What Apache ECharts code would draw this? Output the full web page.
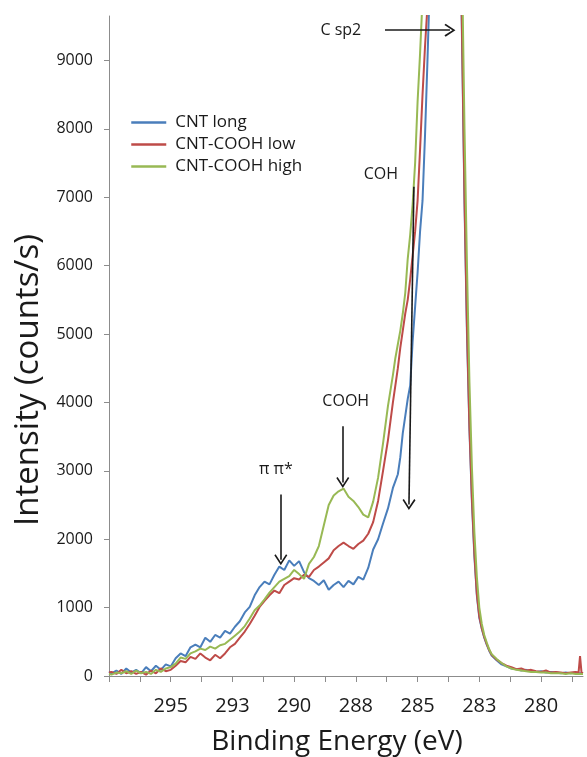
<!DOCTYPE html>
<html>
<head>
<meta charset="utf-8">
<script src="https://cdn.jsdelivr.net/npm/echarts@6/dist/echarts.min.js"></script>
<style>
  html, body { margin: 0; padding: 0; background: #fff; }
  #main { width: 587px; height: 757px; }
</style>
</head>
<body>
<div id="main"></div>
<script>
// binding energy (eV)
const energy = [
  297.5, 297.4, 297.2, 297.0, 296.8, 296.6, 296.4, 296.2, 296.0, 295.8, 295.6, 295.4, 295.2, 295.0,
  294.8, 294.6, 294.4, 294.2, 294.0, 293.8, 293.6, 293.4, 293.2, 293.0, 292.8, 292.6, 292.4, 292.2, 292.0,
  291.8, 291.6, 291.4, 291.2, 291.0, 290.8, 290.6, 290.4, 290.2, 290.0, 289.8, 289.6, 289.4, 289.2, 289.0,
  288.8, 288.6, 288.4, 288.2, 288.0, 287.8, 287.6, 287.4, 287.2, 287.0, 286.8, 286.6, 286.4, 286.2, 286.0,
  285.9, 285.8, 285.7, 285.6, 285.5, 285.4, 285.3, 285.2, 285.1, 285.0,
  284.9, 284.8, 284.7, 284.6, 284.5, 284.4, 284.3, 284.2, 284.1, 284.0,
  283.9, 283.8, 283.7, 283.6, 283.5, 283.4, 283.3, 283.2, 283.1, 283.0,
  282.9, 282.8, 282.7, 282.6, 282.5, 282.4, 282.3, 282.2, 282.1, 282.0,
  281.8, 281.6, 281.4, 281.2, 281.0, 280.8, 280.6, 280.4, 280.2, 280.0,
  279.8, 279.6, 279.4, 279.2, 279.0, 278.8, 278.6, 278.48, 278.42, 278.36, 278.3
];

// intensity (counts/s)
const cntLong = [
  60, 40, 80, 30, 110, 50, 90, 40, 130, 70, 150, 90, 170, 140,
  260, 330, 290, 420, 460, 420, 560, 500, 600, 560, 660, 620, 720, 800, 930,
  1010, 1180, 1300, 1380, 1340, 1480, 1600, 1550, 1690, 1610, 1680, 1520, 1430, 1390, 1330,
  1400, 1260, 1330, 1380, 1300, 1390, 1340, 1450, 1410, 1580, 1850, 2000, 2230, 2450, 2750,
  2850, 2950, 3200, 3550, 3800, 4050, 4250, 4900, 5400, 5900,
  6500, 6950, 7900, 9000, 10200, 12500, 16000, 21000, 27000, 32000,
  35000, 34000, 30000, 24000, 18000, 14000, 11500, 9300, 6900, 5000,
  3600, 2550, 1750, 1180, 850, 690, 560, 460, 370, 300,
  230, 170, 140, 110, 100, 80, 90, 70, 60, 70,
  50, 60, 50, 40, 50, 40, 50, 40, 45, 40, 40
];

const cntCoohLow = [
  50, 60, 30, 90, 40, 70, 30, 60, 20, 80, 40, 110, 70, 90,
  150, 220, 200, 280, 250, 330, 270, 230, 310, 260, 330, 420, 470, 560, 650,
  760, 880, 1010, 1100, 1180, 1250, 1210, 1330, 1380, 1430, 1410, 1480, 1450, 1550, 1600,
  1660, 1720, 1840, 1900, 1950, 1900, 1860, 1930, 1980, 2080, 2250, 2560, 3000, 3450, 4000,
  4250, 4500, 4800, 5050, 5300, 5500, 5800, 6150, 6500, 6950,
  7700, 8500, 9200, 9800, 11000, 13000, 17000, 22000, 28000, 33000,
  36000, 35000, 31000, 25000, 19000, 14500, 11800, 9400, 7000, 5100,
  3650, 2600, 1800, 1200, 870, 700, 570, 470, 380, 310,
  240, 190, 150, 130, 100, 110, 80, 90, 70, 60,
  80, 50, 60, 50, 40, 50, 60, 50, 290, 50, 40
];

const cntCoohHigh = [
  30, 20, 50, 40, 70, 30, 80, 40, 60, 30, 90, 60, 110, 130,
  180, 270, 250, 330, 360, 400, 380, 430, 400, 450, 470, 530, 590, 650, 730,
  840, 960, 1030, 1120, 1220, 1300, 1380, 1420, 1460, 1550, 1490, 1420, 1640, 1740, 1900,
  2200, 2500, 2640, 2700, 2740, 2620, 2560, 2470, 2360, 2320, 2550, 2900, 3400, 3950, 4400,
  4650, 4850, 5050, 5300, 5600, 6100, 6450, 6900, 7500, 8400,
  9100, 9900, 11000, 12800, 15000, 18500, 23000, 28500, 33000, 36000,
  37000, 35500, 32000, 27000, 21000, 16500, 12800, 10400, 8000, 6000,
  4300, 3050, 2100, 1450, 1000, 760, 600, 490, 390, 320,
  250, 190, 140, 110, 90, 80, 70, 60, 60, 50,
  50, 40, 40, 40, 30, 40, 30, 30, 30, 30, 30
];

const seriesNames = ['CNT long', 'CNT-COOH low', 'CNT-COOH high'];
const xTickValues = [297.5, 296.25, 295, 293.75, 292.5, 291.25, 290, 288.75, 287.5, 286.25, 285, 283.75, 282.5, 281.25, 280, 278.75];
const xLabelValues = [295, 292.5, 290, 287.5, 285, 282.5, 280];
const yLabelValues = [0, 1000, 2000, 3000, 4000, 5000, 6000, 7000, 8000, 9000];

// annotation arrows [from, to] and their labels, in data units
const arrows = [
  [[286.32, 9443], [283.69, 9443]],
  [[285.15, 7155], [285.35, 2507]],
  [[288.03, 3651], [288.03, 2830]],
  [[290.54, 2654], [290.54, 1701]]
];
const notes = [
  ['C sp2', 288.11, 9440],
  ['COH', 286.49, 7331],
  ['COOH', 287.91, 4018],
  ['π π*', 290.74, 3021]
];

const font = 'Open Sans';
const grey = '#8c8c8c';
const ink = '#1a1a1a';
const colors = ['#4a7ebb', '#be4b48', '#98b954'];
const chevron = 'path://M5,0 L10,8.5 L9,9.5 L5,2.6 L1,9.5 L0,8.5 Z';

function toPairs (vals) {
  return energy.map(function (e, i) { return [e, vals[i]]; });
}

var myChart = echarts.init(document.getElementById('main'));
let option = {
  animation: false,
  backgroundColor: '#fff',
  color: colors,
  grid: {
    left: 109,
    right: 4,
    top: 16,
    bottom: 81,
    outerBoundsMode: 'none'
  },
  legend: {
    data: seriesNames,
    orient: 'vertical',
    left: 125,
    top: 109,
    itemWidth: 35,
    itemHeight: 14,
    itemGap: 5,
    itemStyle: { opacity: 0 },
    lineStyle: { width: 2.5 },
    textStyle: { fontFamily: font, fontSize: 17, color: ink, padding: [0, 0, 0, 4] }
  },
  xAxis: {
    type: 'value',
    inverse: true,
    min: 278.3,
    max: 297.5,
    name: 'Binding Energy (eV)',
    nameLocation: 'middle',
    nameGap: 52,
    nameTextStyle: { fontFamily: font, fontSize: 28, color: ink, padding: [0, 18, 0, 0] },
    axisLine: { show: true, lineStyle: { color: grey, width: 1 } },
    axisTick: { show: true, inside: false, length: 6, lineStyle: { color: grey }, customValues: xTickValues },
    axisLabel: {
      customValues: xLabelValues,
      margin: 20,
      fontFamily: font,
      fontSize: 20,
      color: ink,
      formatter: function (v) { return String(Math.round(v)); }
    },
    splitLine: { show: false }
  },
  yAxis: {
    type: 'value',
    min: 0,
    max: 9650,
    name: 'Intensity (counts/s)',
    nameLocation: 'middle',
    nameGap: 63,
    nameTextStyle: { fontFamily: font, fontSize: 33, color: ink, padding: [0, 68, 0, 0] },
    axisLine: { show: true, lineStyle: { color: grey, width: 1 } },
    axisTick: { show: true, inside: false, length: 5, lineStyle: { color: grey }, customValues: yLabelValues },
    axisLabel: {
      customValues: yLabelValues,
      margin: 16,
      fontFamily: font,
      fontSize: 16,
      color: ink,
      formatter: function (v) { return String(v); }
    },
    splitLine: { show: false }
  },
  series: [
    {
      name: seriesNames[0],
      type: 'line',
      data: toPairs(cntLong),
      symbol: 'none',
      clip: true,
      lineStyle: { width: 2 },
      emphasis: { disabled: true }
    },
    {
      name: seriesNames[1],
      type: 'line',
      data: toPairs(cntCoohLow),
      symbol: 'none',
      clip: true,
      lineStyle: { width: 2 },
      emphasis: { disabled: true }
    },
    {
      name: seriesNames[2],
      type: 'line',
      data: toPairs(cntCoohHigh),
      symbol: 'none',
      clip: true,
      lineStyle: { width: 2 },
      emphasis: { disabled: true }
    },
    {
      // arrows + peak labels
      name: 'notes',
      type: 'line',
      data: [],
      silent: true,
      markLine: {
        silent: true,
        symbol: ['none', chevron],
        symbolSize: [13, 11],
        label: { show: false },
        lineStyle: { color: ink, width: 1.6, type: 'solid' },
        data: arrows.map(function (a) {
          return [{ coord: a[0] }, { coord: a[1] }];
        })
      },
      markPoint: {
        silent: true,
        symbol: 'circle',
        symbolSize: 0,
        label: {
          show: true,
          position: 'inside',
          fontFamily: font,
          fontSize: 16,
          color: ink,
          formatter: function (p) { return p.name; }
        },
        data: notes.map(function (n) {
          return { name: n[0], coord: [n[1], n[2]] };
        })
      }
    }
  ]
};
// 绘制图表
myChart.setOption(option);
</script>
</body>
</html>
